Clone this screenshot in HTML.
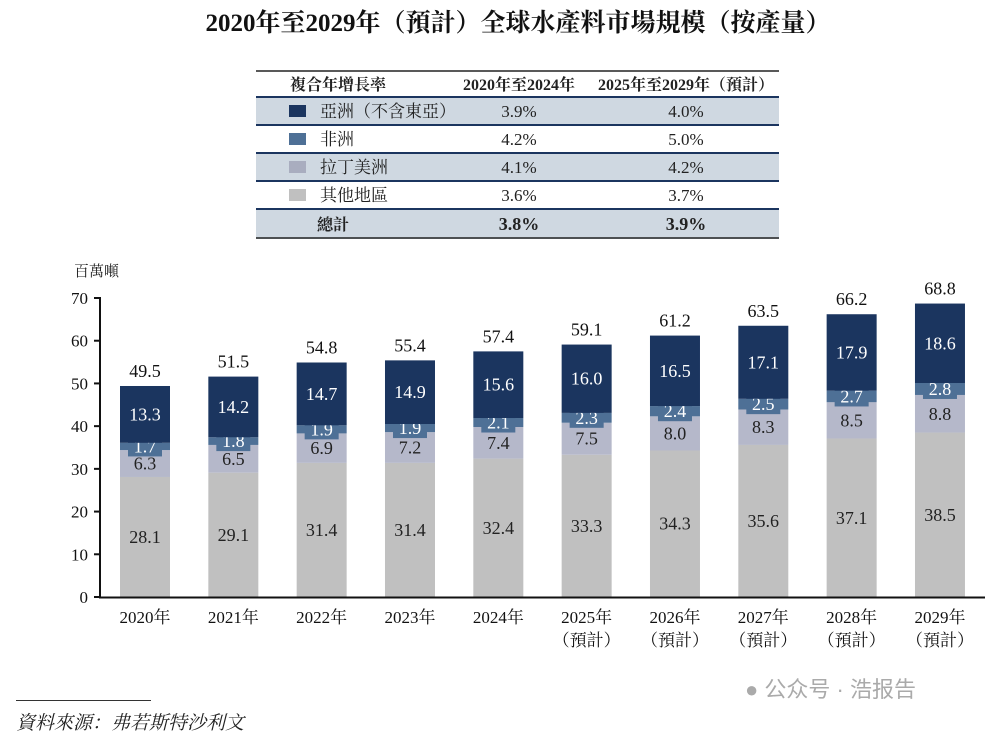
<!DOCTYPE html>
<html><head><meta charset="utf-8">
<style>
body{margin:0;background:#fff;width:1000px;height:739px;overflow:hidden;font-family:"Liberation Serif","Noto Serif CJK SC",serif;}
.t{position:absolute;}
</style></head>
<body>
<div class="t" style="left:0;top:3px;width:1036px;text-align:center;font-size:25px;font-weight:bold;color:#111;">2020年至2029年（預計）全球水產料市場規模（按產量）</div>
<svg id="tbl" width="1000" height="250" style="position:absolute;left:0;top:0" font-family="Liberation Serif, Noto Serif CJK SC, serif" font-size="17" fill="#222"></svg>
<svg id="ch" width="1000" height="739" style="position:absolute;left:0;top:0" font-family="Liberation Serif, Noto Serif CJK SC, serif"></svg>
<div class="t" style="left:16px;top:700px;width:135px;border-top:1.5px solid #333"></div>
<div class="t" style="left:16px;top:708px;font-size:19px;font-style:italic;color:#222">資料來源：弗若斯特沙利文</div>
<div class="t" style="left:745px;top:672px;font-family:'Liberation Sans','Noto Sans CJK SC',sans-serif;font-size:22px;color:#aaa">● 公众号 · 浩报告</div>
<script>
const NS='http://www.w3.org/2000/svg';
function mk(p,tag,a,txt){const e=document.createElementNS(NS,tag);for(const k in a)e.setAttribute(k,a[k]);if(txt!=null)e.textContent=txt;p.appendChild(e);return e;}
// table
const regions=['亞洲（不含東亞）','非洲','拉丁美洲','其他地區'];
const cagr1=['3.9%','4.2%','4.1%','3.6%'];
const cagr2=['4.0%','5.0%','4.2%','3.7%'];
const colors=['#1b355f','#4e7096','#a9adbf','#c0c0c0'];
const tb=document.getElementById('tbl');
mk(tb,'line',{x1:256,x2:779,y1:71,y2:71,stroke:'#222','stroke-width':1.5});
let h=mk(tb,'text',{x:290,y:90,'font-weight':'bold','font-size':16},'複合年增長率');
mk(tb,'text',{x:519,y:90,'text-anchor':'middle','font-weight':'bold','font-size':16},'2020年至2024年');
mk(tb,'text',{x:686,y:90,'text-anchor':'middle','font-weight':'bold','font-size':16},'2025年至2029年（預計）');
for(let i=0;i<5;i++){
  const y=97+i*28;
  if(i%2==0){mk(tb,'rect',{x:256,y:y,width:523,height:i==4?30:27,fill:'#cfd8e1'});}
  mk(tb,'line',{x1:256,x2:779,y1:y,y2:y,stroke:'#1b355f','stroke-width':2});
  if(i<4){
    const g=mk(tb,'g',{});
    
    
    mk(g,'rect',{x:289,y:y+8,width:17,height:12,fill:colors[i]});
    mk(g,'text',{x:320,y:y+20},regions[i]);
    mk(g,'text',{x:519,y:y+20,'text-anchor':'middle'},cagr1[i]);
    mk(g,'text',{x:686,y:y+20,'text-anchor':'middle'},cagr2[i]);
  } else {
    mk(tb,'text',{x:317,y:y+21,'font-weight':'bold','font-size':16},'總計');
    mk(tb,'text',{x:519,y:y+21,'text-anchor':'middle','font-weight':'bold',"font-size":18},'3.8%');
    mk(tb,'text',{x:686,y:y+21,'text-anchor':'middle','font-weight':'bold',"font-size":18},'3.9%');
  }
}
mk(tb,'line',{x1:256,x2:779,y1:238,y2:238,stroke:'#222','stroke-width':1.5});
// chart
const years=['2020年','2021年','2022年','2023年','2024年','2025年','2026年','2027年','2028年','2029年'];
const other=[28.1,29.1,31.4,31.4,32.4,33.3,34.3,35.6,37.1,38.5];
const latam=[6.3,6.5,6.9,7.2,7.4,7.5,8.0,8.3,8.5,8.8];
const africa=[1.7,1.8,1.9,1.9,2.1,2.3,2.4,2.5,2.7,2.8];
const asia=[13.3,14.2,14.7,14.9,15.6,16.0,16.5,17.1,17.9,18.6];
const totals=['49.5','51.5','54.8','55.4','57.4','59.1','61.2','63.5','66.2','68.8'];
const yTicks=[0,10,20,30,40,50,60,70];
const y0=597,yScale=(597-298)/70;
const Y=v=>y0-v*yScale;
const X=i=>145+i*88.33;
const bw=50;
const ch=document.getElementById('ch');
let t=mk(ch,'text',{x:74,y:276,'font-size':15,fill:'#222'},'百萬噸');

for(const v of yTicks){
  mk(ch,'line',{x1:94,x2:100,y1:Y(v),y2:Y(v),stroke:'#111','stroke-width':2});
  const tx=mk(ch,'text',{x:88,y:Y(v)+6,'text-anchor':'end','font-size':17,fill:'#111'},String(v));
  
  
}
const series=[[other,'#c0c0c0','#222','other'],[latam,'#b5b8ca','#222','latam'],[africa,'#4e7096','#fff','africa'],[asia,'#1b355f','#fff','asia']];
for(let i=0;i<years.length;i++){
  let base=0;
  const cx=X(i);
  for(const [arr,col,tc,nm] of series){
    const v=arr[i];
    const r=mk(ch,'rect',{x:cx-bw/2,y:Y(base+v),width:bw,height:v*yScale,fill:col});
    
    
    const mid=Y(base+v/2);
    if(nm=='africa') mk(ch,'rect',{x:cx-17,y:mid-10,width:34,height:20,fill:col});
    mk(ch,'text',{x:cx,y:mid+6,'text-anchor':'middle','font-size':18,fill:tc},v.toFixed(1));
    base+=v;
  }
  const tl=mk(ch,'text',{x:cx,y:Y(base)-9,'text-anchor':'middle','font-size':18,fill:'#111'},totals[i]);
  
  
  const xl=mk(ch,'text',{x:cx,y:623,'text-anchor':'middle','font-size':17,fill:'#111'},years[i]);
  
  
  if(i>=5) mk(ch,'text',{x:cx,y:646,'text-anchor':'middle','font-size':17,fill:'#111'},'（預計）');
}
mk(ch,'line',{x1:100,x2:100,y1:297,y2:598,stroke:'#111','stroke-width':2});
mk(ch,'line',{x1:99,x2:985,y1:597.5,y2:597.5,stroke:'#111','stroke-width':2});
</script>
</body></html>
